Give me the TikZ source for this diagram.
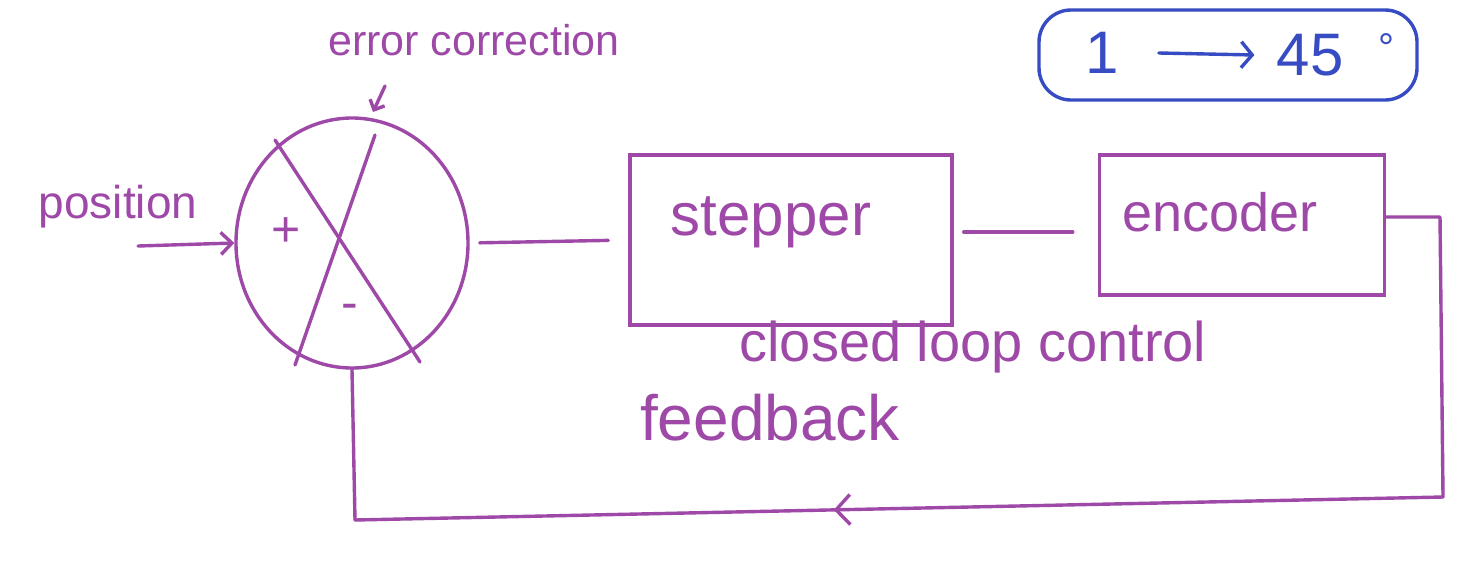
\documentclass[tikz,border=0pt]{standalone}
\usepackage{fontspec}
\setmainfont{Liberation Sans}
\usetikzlibrary{shapes.geometric,arrows.meta,decorations.markings}
\definecolor{ink}{RGB}{158,72,168}
\definecolor{blueink}{RGB}{55,75,195}
\tikzset{
  wire/.style={draw=ink, line width=3.4pt, line cap=round, line join=round},
  arr/.style={wire, -{Straight Barb[length=11pt,width=22pt,line width=3.4pt]}},
  box/.style={draw=ink, line width=3.4pt, rectangle, inner sep=0pt},
  lbl/.style={text=ink, inner sep=0pt, anchor=center},
}
\begin{document}
\begin{tikzpicture}[x=1pt,y=-1pt]
\useasboundingbox (0,0) rectangle (1471,560);
\fill[white] (0,0) rectangle (1471,560);

% summing junction
\node[draw=ink, line width=3.4pt, ellipse, minimum width=232pt, minimum height=250pt, inner sep=0pt] (sum) at (352,243) {};
\coordinate (x1a) at (275,140); \coordinate (x1b) at (420,362);
\coordinate (x2a) at (375,135); \coordinate (x2b) at (295,365);
\draw[wire] (x1a) -- (x1b);
\draw[wire] (x2a) -- (x2b);
\node[lbl, font=\fontsize{50}{50}\selectfont] (plus) at (286,232) {+};
\node[lbl, font=\fontsize{50}{50}\selectfont] (minus) at (350,312) {-};

% labels
\node[lbl, font=\fontsize{43}{43}\selectfont] (err) at (474,40) {error correction};
\coordinate (errA) at (385,86);
\coordinate (errB) at (373,112);
\draw[wire, -{Straight Barb[length=8pt,width=16pt,line width=3.4pt]}] (errA) -- (errB);

\node[lbl, font=\fontsize{46}{46}\selectfont] (pos) at (118,207) {position};
\coordinate (pin) at (138,246);
\draw[arr] (pin) -- (sum.west);

% blocks
\node[box, minimum width=322pt, minimum height=170pt] (step) at (791,240) {};
\node[lbl, font=\fontsize{60}{60}\selectfont] (steptxt) at (771,222) {stepper};
\node[box, minimum width=285pt, minimum height=140pt] (enc) at (1242,225) {};
\node[lbl, font=\fontsize{54}{54}\selectfont] (enctxt) at (1220,212) {encoder};

\draw[wire, shorten <=10pt, shorten >=20pt] (sum.east) -- (step.west);
\draw[wire] ([xshift=10pt,yshift=8pt]step.east) -- ([xshift=-25pt,yshift=-7pt]enc.west);

% feedback loop
\coordinate (c1) at (1440,217);
\coordinate (c2) at (1443,497);
\coordinate (c3) at (355,520);
\draw[wire] ([yshift=8pt]enc.east) -- (c1) -- (c2);
\draw[wire, postaction={decorate, decoration={markings,
   mark=at position 0.56 with {\arrow{Straight Barb[length=14pt,width=30pt,line width=3.4pt]}}}}]
   (c2) -- (c3);
\draw[wire] (c3) -- (sum.south);

\node[lbl, font=\fontsize{56}{56}\selectfont] (clc) at (973,347) {closed loop control};
\node[lbl, font=\fontsize{64}{64}\selectfont] (fb) at (770,418) {feedback};

% blue note
\node[draw=blueink, line width=3.4pt, rounded corners=32pt, minimum width=378pt, minimum height=90pt] (note) at (1228,55) {};
\node[text=blueink, inner sep=0pt, font=\fontsize{60}{60}\selectfont] (one) at (1102,53) {1};
\node[text=blueink, inner sep=0pt, font=\fontsize{60}{60}\selectfont] (ff) at (1310,55) {45};
\node[text=blueink, inner sep=0pt, font=\fontsize{40}{40}\selectfont] (deg) at (1386,48) {°};
\draw[draw=blueink, line width=3.4pt, line cap=round, -{Straight Barb[length=11pt,width=26pt,line width=3.4pt]}] ([xshift=40pt]one.east) -- ([xshift=-22pt]ff.west);
\end{tikzpicture}
\end{document}
